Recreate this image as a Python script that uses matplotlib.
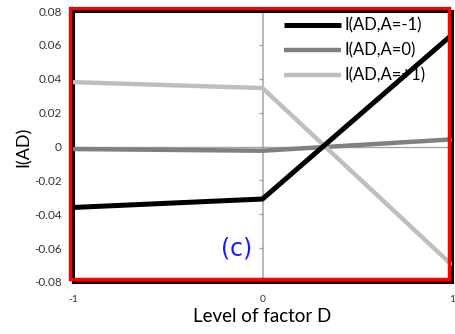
"""Interaction effect I(AD) versus the level of factor D, for each level of A."""
import matplotlib

matplotlib.use("Agg")
import matplotlib.pyplot as plt  # noqa: E402
import matplotlib.patches as mpatches  # noqa: E402
import matplotlib.transforms as mtransforms  # noqa: E402

plt.rcParams["font.family"] = ["Lato", "DejaVu Sans"]

levels_d = [-1, 0, 1]
i_ad_a_minus = [-0.036, -0.031, 0.066]
i_ad_a_zero = [-0.0015, -0.0025, 0.0042]
i_ad_a_plus = [0.038, 0.0345, -0.070]
series_labels = ["I(AD,A=-1)", "I(AD,A=0)", "I(AD,A=+1)"]
y_ticks = [-0.08, -0.06, -0.04, -0.02, 0, 0.02, 0.04, 0.06, 0.08]
y_ticklabels = ["-0.08", "-0.06", "-0.04", "-0.02", "0", "0.02", "0.04", "0.06", "0.08"]

fig = plt.figure(figsize=(4.55, 3.34), dpi=100)
ax = fig.add_axes([73 / 455, 52 / 334, 379 / 455, 271 / 334])

ax.plot(levels_d, i_ad_a_minus, color="black", lw=3.6, label=series_labels[0],
        solid_capstyle="butt", zorder=4)
ax.plot(levels_d, i_ad_a_zero, color="#808080", lw=3.2, label=series_labels[1],
        solid_capstyle="butt", zorder=3)
ax.plot(levels_d, i_ad_a_plus, color="#bfbfbf", lw=3.2, label=series_labels[2],
        solid_capstyle="butt", zorder=3)

ax.set_xlim(-1, 1)
ax.set_ylim(-0.08, 0.08)
ax.set_xticks(levels_d)
ax.set_xticklabels([str(v) for v in levels_d])
ax.set_yticks(y_ticks)
ax.set_yticklabels(y_ticklabels)
ax.tick_params(axis="y", length=0, pad=8, labelsize=8.5, colors="#333333")
ax.tick_params(axis="x", length=0, pad=9, labelsize=7.5, colors="#333333")

for sp in ax.spines.values():
    sp.set_color("black")
    sp.set_linewidth(2.2)

# axes crossing at the origin, grey like the chart axes
ax.axhline(0, color="#a6a6a6", lw=1.0, zorder=1)
mid = ax.secondary_yaxis(0.5)
mid.spines["right"].set_color("#a6a6a6")
mid.spines["right"].set_linewidth(1.1)
mid.spines["left"].set_color("#a6a6a6")
mid.spines["left"].set_linewidth(1.1)
mid.set_yticks(y_ticks)
mid.set_yticklabels([])
mid.tick_params(axis="y", direction="in", length=3, width=1.0, color="#a6a6a6",
                labelleft=False, labelright=False)
mid.set_zorder(1)

ax.set_xlabel("Level of factor D", fontsize=13.5, labelpad=3)
ax.set_ylabel("I(AD)", fontsize=13, labelpad=2)

leg = ax.legend(loc="upper left", bbox_to_anchor=(0.558, 0.975), frameon=False,
                fontsize=12, handlelength=3.4, handletextpad=0.2,
                labelspacing=0.53, borderpad=0, borderaxespad=0)
leg.set_zorder(2)

ax.text(0.472, 0.125, "(c)", transform=ax.transAxes, ha="right", va="center",
        fontsize=17, color="#1a1aff", family="DejaVu Sans")

# red highlight box, set a few pixels up and left of the frame
red_tr = mtransforms.offset_copy(ax.transAxes, fig=fig, x=-3, y=2.7, units="dots")
ax.add_patch(mpatches.Rectangle((0, 0), 1, 1, transform=red_tr, fill=False,
                                ec="#ff0000", lw=2.5, clip_on=False, zorder=10))

fig.savefig("out.png", dpi=100)
plt.close(fig)
